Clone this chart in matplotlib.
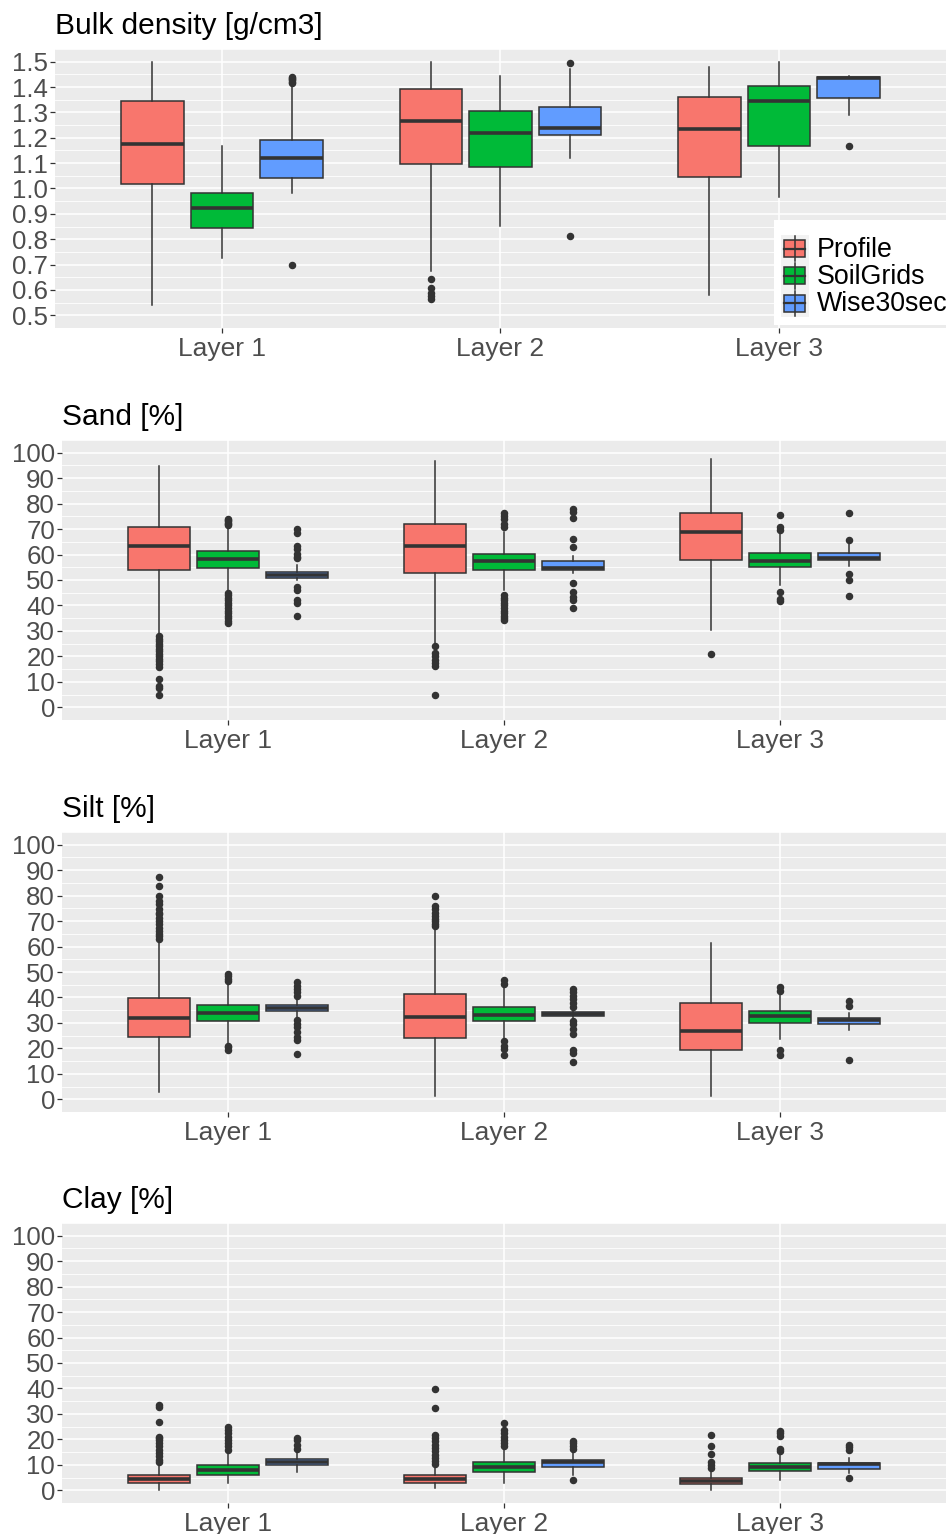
import matplotlib
matplotlib.use("Agg")
import matplotlib.pyplot as plt
from matplotlib.ticker import MultipleLocator, FormatStrFormatter
from matplotlib.patches import Rectangle

plt.rcParams['font.family'] = ['Liberation Sans', 'DejaVu Sans']

layers = ["Layer 1", "Layer 2", "Layer 3"]
sources = ["Profile", "SoilGrids", "Wise30sec"]
source_colors = ["#F8766D", "#00BA38", "#619CFF"]

# Box summaries per layer: (lower whisker, Q1, median, Q3, upper whisker)
bd_profile = [(0.539, 1.016, 1.175, 1.344, 1.500), (0.674, 1.097, 1.266, 1.393, 1.500), (0.580, 1.044, 1.233, 1.359, 1.478)]
bd_soilgrids = [(0.726, 0.846, 0.925, 0.984, 1.167), (0.854, 1.083, 1.220, 1.304, 1.445), (0.968, 1.167, 1.344, 1.405, 1.500)]
bd_wise = [(0.981, 1.040, 1.121, 1.190, 1.410), (1.122, 1.210, 1.240, 1.320, 1.471), (1.291, 1.356, 1.436, 1.438, 1.444)]
bd_profile_out = [[], [0.644, 0.607, 0.589, 0.575, 0.565], []]
bd_soilgrids_out = [[], [], []]
bd_wise_out = [[0.699, 1.416, 1.421, 1.426, 1.431, 1.436, 1.441], [0.812, 1.493], [1.167]]

sand_profile = [(28.5, 53.9, 63.4, 70.9, 94.6), (25.2, 52.9, 63.2, 71.9, 96.6), (30.2, 57.8, 68.9, 76.5, 97.6)]
sand_soilgrids = [(45.4, 54.6, 58.1, 61.2, 70.9), (46.1, 53.9, 57.3, 60.2, 68.9), (48.0, 55.0, 57.6, 60.6, 68.3)]
sand_wise = [(50.0, 50.9, 52.0, 53.1, 55.9), (52.9, 53.9, 54.8, 57.3, 59.5), (55.5, 57.8, 58.5, 60.8, 64.4)]
sand_profile_out = [[28, 27, 26, 25, 24, 23, 22, 21, 20, 19, 18, 17, 16, 11.1, 8.2, 7.6, 5.0],
                    [24.2, 21.3, 20, 18.7, 17.4, 16.1, 5.0],
                    [20.9]]
sand_soilgrids_out = [[71.5, 72, 72.5, 73, 73.5, 74, 45, 44, 43, 42, 41, 40, 39, 38, 37, 36, 35, 34, 33],
                      [70.9, 72, 74, 75, 76.4, 44, 43, 42, 41, 40, 39, 38, 37, 36, 35, 34.3],
                      [75.5, 70.9, 69.6, 45.2, 42.4, 41.9]]
sand_wise_out = [[70.2, 68.3, 63.3, 62.0, 60.4, 59.1, 58.5, 47.4, 46.1, 42.2, 40.9, 35.9],
                 [77.7, 76.8, 74.2, 66.1, 63.1, 48.7, 45.4, 43.5, 42.2, 38.9],
                 [76.2, 65.7, 52.3, 49.9, 43.9]]

silt_profile = [(2.9, 24.6, 31.9, 39.8, 62.2), (1.3, 24.0, 32.5, 41.3, 67.4), (1.2, 19.2, 27.0, 37.7, 61.5)]
silt_soilgrids = [(21.8, 30.8, 33.8, 37.2, 45.9), (23.3, 30.9, 33.1, 36.1, 43.9), (23.7, 29.9, 32.7, 34.8, 41.3)]
silt_wise = [(31.9, 34.8, 35.9, 37.2, 39.4), (31.9, 32.9, 33.5, 34.2, 35.1), (27.2, 29.5, 31.3, 31.8, 33.8)]
silt_profile_out = [[62.8, 64.1, 65, 66.1, 67.4, 68.7, 70, 71.3, 72.6, 73.3, 74.6, 76.8, 77.8, 79.8, 83.7, 87.2],
                    [68.1, 69, 70, 71, 72, 73.3, 74.6, 75.9, 79.8],
                    []]
silt_soilgrids_out = [[46.5, 47.2, 48.5, 49.4, 21.1, 20.5, 19.2],
                      [45.2, 46.8, 22.7, 21.1, 19.8, 17.2],
                      [42.6, 44.2, 19.4, 17.2]]
silt_wise_out = [[40.7, 42, 43.3, 44.6, 46.2, 31.2, 29.6, 28.3, 26.3, 24.4, 23.1, 17.9],
                 [36.4, 37.7, 39.4, 40.7, 42, 43.3, 30.9, 29.6, 27.6, 25.7, 19.4, 18.1, 14.6],
                 [36.8, 38.7, 15.6]]

clay_profile = [(0.0, 2.9, 4.4, 5.9, 10.1), (0.7, 2.9, 4.4, 6.1, 9.7), (0.0, 2.6, 3.5, 4.7, 7.4)]
clay_soilgrids = [(2.9, 5.9, 7.8, 10.1, 14.9), (2.9, 7.0, 9.0, 11.0, 15.9), (3.9, 7.4, 9.1, 10.7, 14.6)]
clay_wise = [(7.2, 9.9, 11.1, 12.3, 14.6), (6.1, 9.0, 11.1, 12.0, 15.3), (6.8, 8.4, 10.2, 10.6, 12.5)]
clay_profile_out = [[11, 12, 13.3, 14.6, 15.9, 17.2, 18.5, 19.6, 20.5, 21.1, 27.0, 32.6, 33.6],
                    [10.4, 11.4, 12.7, 14, 15.3, 16.6, 17.9, 19.2, 20.5, 21.8, 32.5, 39.8],
                    [8.7, 10.1, 11.2, 14.4, 17.5, 21.8]]
clay_soilgrids_out = [[15.9, 17.2, 18.5, 19.8, 21.1, 22.5, 23.8, 24.8],
                      [17.2, 18.5, 19.8, 21.1, 22.5, 23.8, 26.4],
                      [15.5, 16.4, 21.5, 22.5, 23.4]]
clay_wise_out = [[16.2, 17.9, 19.6, 20.5],
                 [16.2, 17.5, 18.5, 19.5, 3.9],
                 [15.9, 17.0, 17.9, 5.0]]

panel_titles = ["Bulk density [g/cm3]", "Sand [%]", "Silt [%]", "Clay [%]"]
panel_stats = [
    ([bd_profile, bd_soilgrids, bd_wise], [bd_profile_out, bd_soilgrids_out, bd_wise_out]),
    ([sand_profile, sand_soilgrids, sand_wise], [sand_profile_out, sand_soilgrids_out, sand_wise_out]),
    ([silt_profile, silt_soilgrids, silt_wise], [silt_profile_out, silt_soilgrids_out, silt_wise_out]),
    ([clay_profile, clay_soilgrids, clay_wise], [clay_profile_out, clay_soilgrids_out, clay_wise_out]),
]

W, H = 951, 1534
fig = plt.figure(figsize=(W / 100, H / 100), dpi=100)


def add_px_axes(left, top, right, bottom, **kw):
    return fig.add_axes([left / W, 1 - bottom / H, (right - left) / W, (bottom - top) / H], **kw)


panel_boxes = [(55, 49, 946, 328), (62, 440, 946, 720), (62, 832, 946, 1112), (62, 1223, 946, 1503)]
dark = "#333333"
dodge = 0.25
box_w = 0.225

for p, (title, (stats_by_src, outs_by_src), rect) in enumerate(zip(panel_titles, panel_stats, panel_boxes)):
    ax = add_px_axes(*rect)
    ax.set_facecolor("#EBEBEB")
    for s in ax.spines.values():
        s.set_visible(False)
    ax.set_axisbelow(True)

    for j, (stats, outs) in enumerate(zip(stats_by_src, outs_by_src)):
        bstats = []
        for (lo, q1, med, q3, hi), fl in zip(stats, outs):
            bstats.append(dict(whislo=lo, q1=q1, med=med, q3=q3, whishi=hi, fliers=fl))
        pos = [i + 1 + (j - 1) * dodge for i in range(len(layers))]
        ax.bxp(bstats, positions=pos, widths=box_w, patch_artist=True, showcaps=False,
               boxprops=dict(facecolor=source_colors[j], edgecolor=dark, linewidth=1.1),
               medianprops=dict(color=dark, linewidth=2.6, solid_capstyle="butt"),
               whiskerprops=dict(color=dark, linewidth=1.1),
               flierprops=dict(marker="o", markerfacecolor=dark, markeredgecolor=dark,
                               markersize=4.4, linestyle="none"),
               manage_ticks=False)

    ax.set_xlim(0.4, 3.6)
    ax.set_xticks([1, 2, 3])
    ax.set_xticklabels(layers)
    if p == 0:
        ax.set_ylim(0.45, 1.55)
        ax.yaxis.set_major_locator(MultipleLocator(0.1))
        ax.yaxis.set_minor_locator(MultipleLocator(0.05))
        ax.yaxis.set_major_formatter(FormatStrFormatter("%.1f"))
    else:
        ax.set_ylim(-5, 105)
        ax.yaxis.set_major_locator(MultipleLocator(10))
        ax.yaxis.set_minor_locator(MultipleLocator(5))
    ax.grid(which="major", color="white", linewidth=1.1)
    ax.grid(which="minor", axis="y", color="white", linewidth=0.6)
    ax.tick_params(which="major", direction="out", length=3.5, width=0.9, color=dark,
                   labelcolor="#4D4D4D")
    ax.tick_params(axis="y", which="major", labelsize=18.6, pad=1.5)
    ax.tick_params(axis="x", which="major", labelsize=19, pad=3)
    ax.tick_params(which="minor", length=0)
    ax.set_title(title, loc="left", fontsize=21.5, pad=10.5, color="black")

# Legend drawn in its own pixel-space axes over the first panel
lg = add_px_axes(774, 220, 960, 325)
lg.set_xlim(774, 960)
lg.set_ylim(325, 220)
lg.set_facecolor("white")
lg.set_xticks([])
lg.set_yticks([])
for s in lg.spines.values():
    s.set_visible(False)
row_top = 235
row_h = 27.3
for j, (name, col) in enumerate(zip(sources, source_colors)):
    y0 = row_top + j * row_h
    lg.add_patch(Rectangle((781, y0), 28, row_h, facecolor="#F2F2F2", edgecolor="none"))
    cy = y0 + row_h / 2
    lg.plot([795, 795], [y0 + 1, y0 + row_h - 1], color=dark, lw=1.1)
    lg.add_patch(Rectangle((784, cy - 8.5), 21, 17, facecolor=col, edgecolor=dark, lw=1.1))
    lg.plot([784, 805], [cy, cy], color=dark, lw=1.6)
    lg.text(817, cy + 1, name, fontsize=19.3, va="center", ha="left", color="black")

fig.savefig("out.png", dpi=100)
